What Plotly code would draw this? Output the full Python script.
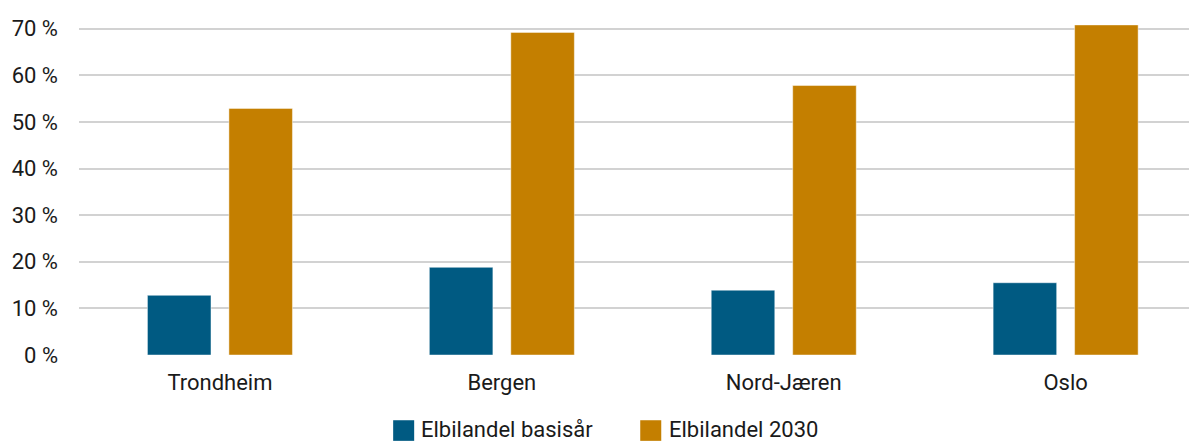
import plotly.graph_objects as go

# Elbilandel per byområde
byer = ["Trondheim", "Bergen", "Nord-Jæren", "Oslo"]
basisaar = [12.8, 18.8, 13.9, 15.5]
aar_2030 = [52.9, 69.2, 57.8, 70.8]
serie_navn = ["Elbilandel basisår", "Elbilandel 2030"]
y_ticks = [0, 10, 20, 30, 40, 50, 60, 70]

BLUE = "#005a82"
ORANGE = "#c47f00"
FONT = "Roboto"
TEXT = "#1a1a1a"

fig = go.Figure()
fig.add_trace(go.Bar(x=byer, y=basisaar, name=serie_navn[0],
                     marker=dict(color=BLUE, line=dict(color="rgba(255,255,255,0.45)", width=1))))
fig.add_trace(go.Bar(x=byer, y=aar_2030, name=serie_navn[1],
                     marker=dict(color=ORANGE, line=dict(color="rgba(255,255,255,0.45)", width=1))))

# manual legend below the plot (large square keys)
for i, (navn, farge) in enumerate(zip(serie_navn, [BLUE, ORANGE])):
    x0 = [0.281, 0.502][i]
    fig.add_shape(type="rect", xref="paper", yref="paper",
                  x0=x0, x1=x0 + 0.0188, y0=-0.193, y1=-0.254,
                  fillcolor=farge, line=dict(width=0))
    fig.add_annotation(text=navn, xref="paper", yref="paper", x=x0 + 0.0235, y=-0.221,
                       xanchor="left", yanchor="middle", showarrow=False,
                       font=dict(family=FONT, size=22, color=TEXT))

# the page adds an 8px body margin, so the figure is 8px smaller than the window
fig.update_layout(
    width=1189, height=435,
    margin=dict(l=71, r=0, t=9, b=88, autoexpand=False),
    plot_bgcolor="white", paper_bgcolor="white",
    barmode="group", bargap=0.422, bargroupgap=0.22,
    showlegend=False,
    font=dict(family=FONT, size=22, color=TEXT),
)
fig.update_xaxes(range=[-0.5, 3.466], showgrid=False, showline=False, zeroline=False,
                 automargin=False, ticks="", ticklabelstandoff=12,
                 tickfont=dict(size=22, color=TEXT))
fig.update_yaxes(range=[0, 72.5], tickvals=y_ticks, ticktext=[f"{v} %" for v in y_ticks],
                 showgrid=True, gridcolor="#d2d2d2", gridwidth=2, zeroline=False, showline=False,
                 automargin=False, ticks="", ticklabelstandoff=20,
                 tickfont=dict(size=22, color=TEXT))

fig.write_html("out.html")
